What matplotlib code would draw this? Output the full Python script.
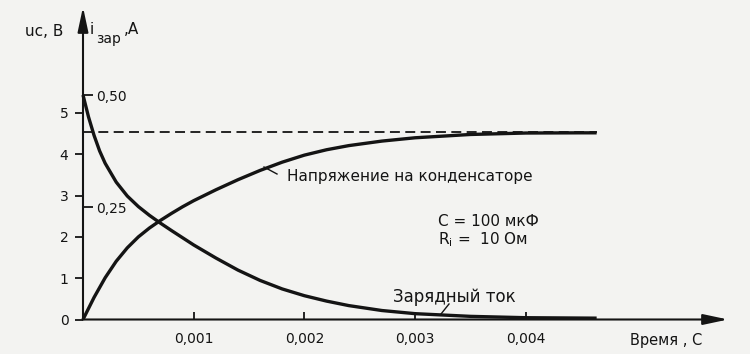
import matplotlib
matplotlib.use("Agg")
import matplotlib.pyplot as plt

# ---- data ----
t_voltage_ms = [0.0, 0.1, 0.2, 0.3, 0.4, 0.5, 0.6, 0.7, 0.8, 0.9, 1.0, 1.2, 1.4,
                1.6, 1.8, 2.0, 2.2, 2.4, 2.7, 3.0, 3.5, 4.0, 4.5, 4.64]
u_c = [0.0, 0.535, 1.01, 1.41, 1.735, 2.00, 2.215, 2.40, 2.57, 2.73, 2.877, 3.14, 3.385,
       3.61, 3.81, 3.98, 4.11, 4.21, 4.32, 4.40, 4.48, 4.515, 4.52, 4.52]

t_current_ms = [0.0, 0.05, 0.1, 0.15, 0.2, 0.3, 0.4, 0.5, 0.6, 0.7, 0.8, 0.9, 1.0, 1.2,
                1.4, 1.6, 1.8, 2.0, 2.2, 2.4, 2.7, 3.0, 3.5, 4.0, 4.64]
i_zar = [0.500, 0.451, 0.410, 0.3755, 0.348, 0.306, 0.275, 0.2515, 0.232, 0.2145, 0.198,
         0.182, 0.166, 0.137, 0.110, 0.087, 0.068, 0.053, 0.041, 0.031, 0.020, 0.013,
         0.007, 0.004, 0.003]

u_asymptote = 4.53
x_ticks = [0.001, 0.002, 0.003, 0.004]
x_tick_labels = ["0,001", "0,002", "0,003", "0,004"]
u_ticks = [0, 1, 2, 3, 4, 5]
i_ticks = [0.25, 0.50]
i_tick_labels = ["0,25", "0,50"]

t_voltage = [v / 1000 for v in t_voltage_ms]
t_current = [v / 1000 for v in t_current_ms]

# ---- figure ----
W, H = 750, 354
bg = "#f3f3f1"
ink = "#141414"
fig = plt.figure(figsize=(W / 100, H / 100), dpi=100, facecolor=bg)
x0, x1 = 83, 728
y0, y1 = 319.5, 7
ax = fig.add_axes([x0 / W, 1 - y0 / H, (x1 - x0) / W, (y0 - y1) / H])
ax.set_facecolor("none")

px_per_s = 110.7e3
px_per_V = 41.3
px_per_A = 449.0
xmax = (x1 - x0) / px_per_s
ymax = (y0 - y1) / px_per_V
ax.set_xlim(0, xmax)
ax.set_ylim(0, ymax)

ax2 = ax.twinx()
ax2.set_ylim(0, (y0 - y1) / px_per_A)
ax2.set_facecolor("none")

for a in (ax, ax2):
    for s in a.spines.values():
        s.set_visible(False)

fs = 10
# x ticks
ax.set_xticks(x_ticks)
ax.set_xticklabels(x_tick_labels)
ax.tick_params(axis="x", direction="in", length=6, width=1.3, color=ink,
               labelsize=fs, pad=9, labelcolor=ink)
# voltage ticks
ax.set_yticks(u_ticks)
ax.set_yticklabels([str(v) for v in u_ticks])
ax.tick_params(axis="y", direction="out", length=5.5, width=1.3, color=ink,
               labelsize=fs, pad=5, labelcolor=ink)
# current ticks, on the right side of the same vertical axis
ax2.spines["right"].set_position(("axes", 0))
ax2.set_yticks(i_ticks)
ax2.set_yticklabels(i_tick_labels)
ax2.tick_params(axis="y", direction="out", length=7.5, width=1.3, color=ink,
                labelsize=fs, pad=2, labelcolor=ink)

# axes with arrows
arrow_kw = dict(arrowstyle="-|>,head_length=0.75,head_width=0.16", lw=1.5,
                color=ink, mutation_scale=20, shrinkA=0, shrinkB=0)
ax.annotate("", xy=(1, 0), xytext=(0, 0), xycoords="axes fraction",
            arrowprops=arrow_kw, annotation_clip=False)
ax.annotate("", xy=(0, 1), xytext=(0, 0), xycoords="axes fraction",
            arrowprops=arrow_kw, annotation_clip=False)

# dashed asymptote
ax.plot([0, t_voltage[-1]], [u_asymptote, u_asymptote], color=ink, lw=1.3,
        dashes=(5.5, 3))

# curves
ax.plot(t_voltage, u_c, color=ink, lw=2.4, clip_on=False,
        solid_capstyle="butt", solid_joinstyle="round")
ax2.plot(t_current, i_zar, color=ink, lw=2.4, clip_on=False,
         solid_capstyle="butt", solid_joinstyle="round")

def to_data(px, py):
    return (px - x0) / px_per_s, (y0 - py) / px_per_V

# annotations
tx, ty = to_data(287, 177)
ax.text(tx, ty, "Напряжение на конденсаторе", fontsize=11, color=ink,
        ha="left", va="center")
a, b = to_data(264, 167), to_data(277, 174)
ax.plot([a[0], b[0]], [a[1], b[1]], color=ink, lw=1.0)

tx, ty = to_data(393, 297)
ax.text(tx, ty, "Зарядный ток", fontsize=12, color=ink, ha="left", va="center")
a, b = to_data(441, 314), to_data(449, 304)
ax.plot([a[0], b[0]], [a[1], b[1]], color=ink, lw=1.0)

tx, ty = to_data(438, 221)
ax.text(tx, ty, "C = 100 мкФ", fontsize=11, color=ink, ha="left", va="center")
tx, ty = to_data(438, 240)
ax.text(tx, ty, r"R$_\mathregular{i}$ =  10 Ом", fontsize=11, color=ink,
        ha="left", va="center")

# axis titles
def ftext(px, py, s, **kw):
    fig.text(px / W, 1 - py / H, s, color=ink, **kw)

ftext(25, 32, "uc, B", fontsize=11, ha="left", va="center")
ftext(90, 29, "i", fontsize=11, ha="left", va="center")
ftext(96, 39, "зар", fontsize=10, ha="left", va="center")
ftext(124, 30, ",A", fontsize=11, ha="left", va="center")
ftext(630, 340, "Время , С", fontsize=10.5, ha="left", va="center")

fig.savefig("out.png", dpi=100, facecolor=bg)
